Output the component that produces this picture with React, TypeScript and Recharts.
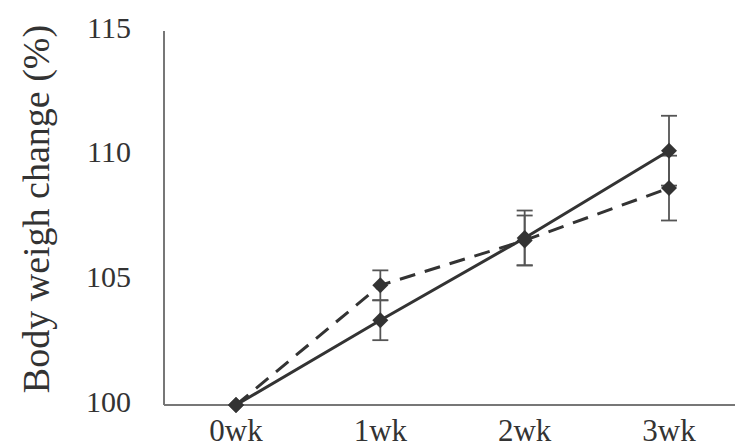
import React from 'react';
import { LineChart, Line, XAxis, YAxis, ErrorBar } from 'recharts';

const categories = ['0wk', '1wk', '2wk', '3wk'];
const solidValues = [100, 103.4, 106.7, 110.2];
const solidErrors = [null, 0.8, 1.1, 1.4];
const dashedValues = [100, 104.8, 106.6, 108.7];
const dashedErrors = [null, 0.6, 1.0, 1.3];
const yTicks = [100, 105, 110, 115];

const data = categories.map((c, i) => ({
  name: c,
  solid: solidValues[i],
  solidErr: solidErrors[i],
  dashed: dashedValues[i],
  dashedErr: dashedErrors[i],
}));

const Diamond = (props: any) => {
  const { cx, cy } = props;
  if (cx == null || cy == null) return null;
  const r = 8;
  return (
    <path
      d={`M${cx},${cy - r} L${cx + r},${cy} L${cx},${cy + r} L${cx - r},${cy} Z`}
      fill="#333"
      stroke="none"
    />
  );
};

const font = '"Liberation Serif", "Times New Roman", serif';

const YLabel = () => (
  <text
    x={36}
    y={209}
    transform="rotate(-90 36 209)"
    textAnchor="middle"
    dominantBaseline="central"
    fontFamily={font}
    fontSize={38}
    fill="#333"
  >
    Body weigh change (%)
  </text>
);

export default function App() {
  return (
    <div
      style={{
        position: 'fixed',
        left: 0,
        top: 0,
        width: 735,
        height: 448,
        overflow: 'hidden',
        background: '#fff',
      }}
    >
      <LineChart
        width={735}
        height={448}
        data={data}
        margin={{ top: 31, right: 0, bottom: 0, left: 0 }}
      >
        <XAxis
          dataKey="name"
          axisLine={{ stroke: '#777', strokeWidth: 2 }}
          tickLine={false}
          tickMargin={8}
          height={43}
          padding={{ left: 72, right: 66 }}
          tick={{ fontFamily: font, fontSize: 31, fill: '#333' }}
          interval={0}
        />
        <YAxis
          domain={[100, 115]}
          ticks={yTicks}
          width={164}
          axisLine={{ stroke: '#777', strokeWidth: 2 }}
          tickLine={false}
          tickMargin={27}
          tick={{ fontFamily: font, fontSize: 30, fill: '#333', dy: -4 }}
          label={{ content: () => <YLabel /> }}
        />
        <Line
          type="linear"
          dataKey="dashed"
          stroke="#333"
          strokeWidth={3}
          strokeDasharray="16 10"
          dot={<Diamond />}
          activeDot={false}
          isAnimationActive={false}
        >
          <ErrorBar dataKey="dashedErr" width={8} stroke="#555" strokeWidth={1.8} direction="y" />
        </Line>
        <Line
          type="linear"
          dataKey="solid"
          stroke="#333"
          strokeWidth={3}
          dot={<Diamond />}
          activeDot={false}
          isAnimationActive={false}
        >
          <ErrorBar dataKey="solidErr" width={8} stroke="#555" strokeWidth={1.8} direction="y" />
        </Line>
      </LineChart>
    </div>
  );
}
